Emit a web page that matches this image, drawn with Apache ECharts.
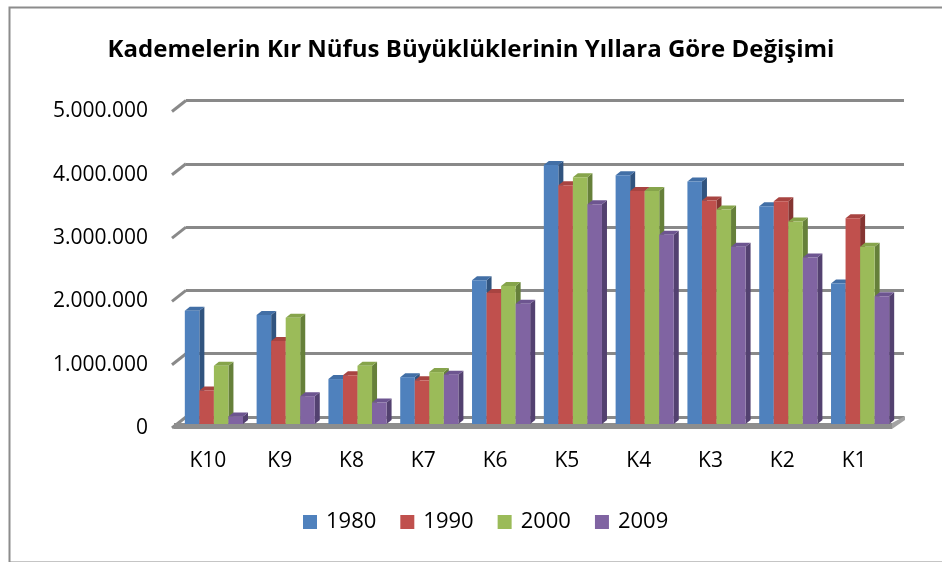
<!DOCTYPE html>
<html>
<head>
<meta charset="utf-8">
<script src="https://cdn.jsdelivr.net/npm/echarts@6/dist/echarts.min.js"></script>
<style>
  html, body { margin: 0; padding: 0; background: #ffffff; }
  #chart { width: 942px; height: 562px; }
</style>
</head>
<body>
<div id="chart"></div>
<script>
// Rural population per tier, by census year
const categories = ['K10', 'K9', 'K8', 'K7', 'K6', 'K5', 'K4', 'K3', 'K2', 'K1'];
const years = ['1980', '1990', '2000', '2009'];
const pop1980 = [1790000, 1720000, 710000, 740000, 2270000, 4090000, 3930000, 3830000, 3440000, 2220000];
const pop1990 = [530000, 1310000, 770000, 690000, 2070000, 3770000, 3680000, 3530000, 3520000, 3250000];
const pop2000 = [920000, 1680000, 920000, 820000, 2180000, 3900000, 3680000, 3390000, 3200000, 2800000];
const pop2009 = [120000, 440000, 340000, 780000, 1900000, 3470000, 2990000, 2800000, 2630000, 2020000];
const yTicks = [0, 1000000, 2000000, 3000000, 4000000, 5000000];

const seriesValues = [pop1980, pop1990, pop2000, pop2009];
const faceColors = ['#4F81BD', '#C0504D', '#9BBB59', '#8064A2'];
const topColors  = ['#426FA6', '#A84441', '#86A44B', '#6D5590'];
const sideColors = ['#31547F', '#853532', '#66803A', '#534170'];

const FONT = 'Open Sans';
const DEPTH_X = 5, DEPTH_Y = 4;
const GROUP_RATIO = 0.81;

function fmt(v) {
  return String(v).replace(/\B(?=(\d{3})+(?!\d))/g, '.');
}

function yAxisBase(gridIndex) {
  return {
    type: 'value', gridIndex: gridIndex, min: 0, max: 5000000, interval: 1000000,
    axisLine: { show: false }, axisTick: { show: false },
    axisLabel: { show: false }, splitLine: { show: false }
  };
}
function xAxisBase(gridIndex) {
  return {
    type: 'category', gridIndex: gridIndex, data: categories,
    axisLine: { show: false }, axisTick: { show: false },
    axisLabel: { show: false }, splitLine: { show: false }
  };
}

// back wall (gridlines), front plane (labels), bar plane (columns)
const grids = [
  { left: 186, top: 100.5, width: 718, height: 316.5 },
  { left: 172, top: 111.5, width: 718, height: 316.5 },
  { left: 178, top: 107.5, width: 718, height: 316.5 }
];

const xAxes = [xAxisBase(0), xAxisBase(1), xAxisBase(2)];
xAxes[1].axisLabel = { show: true, color: '#000', fontFamily: FONT, fontSize: 21, margin: 23 };

const yAxes = [yAxisBase(0), yAxisBase(1), yAxisBase(2)];
yAxes[0].splitLine = { show: true, lineStyle: { color: '#898989', width: 3 } };
yAxes[1].axisLabel = {
  show: true, color: '#000', fontFamily: FONT, fontSize: 21, margin: 24,
  formatter: function (v) { return fmt(v); }
};

// depth strokes on the left wall edge and the floor slab
const wallSeries = {
  type: 'custom', xAxisIndex: 0, yAxisIndex: 0, silent: true, z: 1,
  data: yTicks.map(function (v) { return [0, v]; }),
  renderItem: function (params, api) {
    const p = api.coord([0, api.value(1)]);
    const band = api.size([1, 0])[0];
    const left = p[0] - band / 2;
    const children = [{
      type: 'line',
      shape: { x1: left - 14, y1: p[1] + 11, x2: left, y2: p[1] },
      style: { stroke: '#898989', lineWidth: 3 }
    }];
    if (api.value(1) === 0) {
      const right = left + band * categories.length;
      children.push({
        type: 'polygon',
        shape: { points: [[left - 12, p[1] + 6], [right - 12, p[1] + 6], [right - 12, p[1] + 12], [left - 12, p[1] + 12]] },
        style: { fill: '#8E8E8E' }
      });
      children.push({
        type: 'polygon',
        shape: { points: [[right - 12, p[1] + 6], [right + 1, p[1] - 1], [right + 1, p[1] + 3], [right - 12, p[1] + 12]] },
        style: { fill: '#A3A3A3' }
      });
    }
    return { type: 'group', children: children };
  }
};

function barSeries(i) {
  return {
    type: 'custom', name: years[i], xAxisIndex: 2, yAxisIndex: 2, z: 3,
    itemStyle: { color: faceColors[i] },
    data: seriesValues[i].map(function (v, k) { return [k, v]; }),
    renderItem: function (params, api) {
      const top = api.coord([api.value(0), api.value(1)]);
      const base = api.coord([api.value(0), 0]);
      const band = api.size([1, 0])[0];
      const groupW = band * GROUP_RATIO;
      const w = groupW / years.length;
      const x0 = top[0] - groupW / 2 + i * w;
      const y0 = top[1], y1 = base[1];
      return {
        type: 'group',
        children: [
          { type: 'polygon',
            shape: { points: [[x0 + w, y0], [x0 + w + DEPTH_X, y0 - DEPTH_Y], [x0 + w + DEPTH_X, y1 - DEPTH_Y], [x0 + w, y1]] },
            style: { fill: sideColors[i] } },
          { type: 'polygon',
            shape: { points: [[x0, y0], [x0 + DEPTH_X, y0 - DEPTH_Y], [x0 + w + DEPTH_X, y0 - DEPTH_Y], [x0 + w, y0]] },
            style: { fill: topColors[i] } },
          { type: 'rect',
            shape: { x: x0, y: y0, width: w, height: y1 - y0 },
            style: { fill: faceColors[i] } }
        ]
      };
    }
  };
}

const chart = echarts.init(document.getElementById('chart'), null, { renderer: 'canvas' });
chart.setOption({
  backgroundColor: '#ffffff',
  animation: false,
  title: {
    text: 'Kademelerin Kır Nüfus Büyüklüklerinin Yıllara Göre Değişimi',
    left: 'center', top: 33,
    textStyle: { fontFamily: FONT, fontWeight: 'bold', fontSize: 24, color: '#000' }
  },
  legend: {
    data: years, left: 303, top: 511, icon: 'rect', padding: 0,
    itemWidth: 14, itemHeight: 14, itemGap: 24,
    textStyle: { fontFamily: FONT, fontSize: 22, color: '#000', padding: [0, 0, 0, 4] }
  },
  graphic: [{
    type: 'rect', left: 7, top: 5, silent: true, z: -1,
    shape: { width: 960, height: 555 },
    style: { fill: 'none', stroke: '#8C8C8C', lineWidth: 2 }
  }],
  grid: grids,
  xAxis: xAxes,
  yAxis: yAxes,
  series: [wallSeries, barSeries(0), barSeries(1), barSeries(2), barSeries(3)]
});
</script>
</body>
</html>
